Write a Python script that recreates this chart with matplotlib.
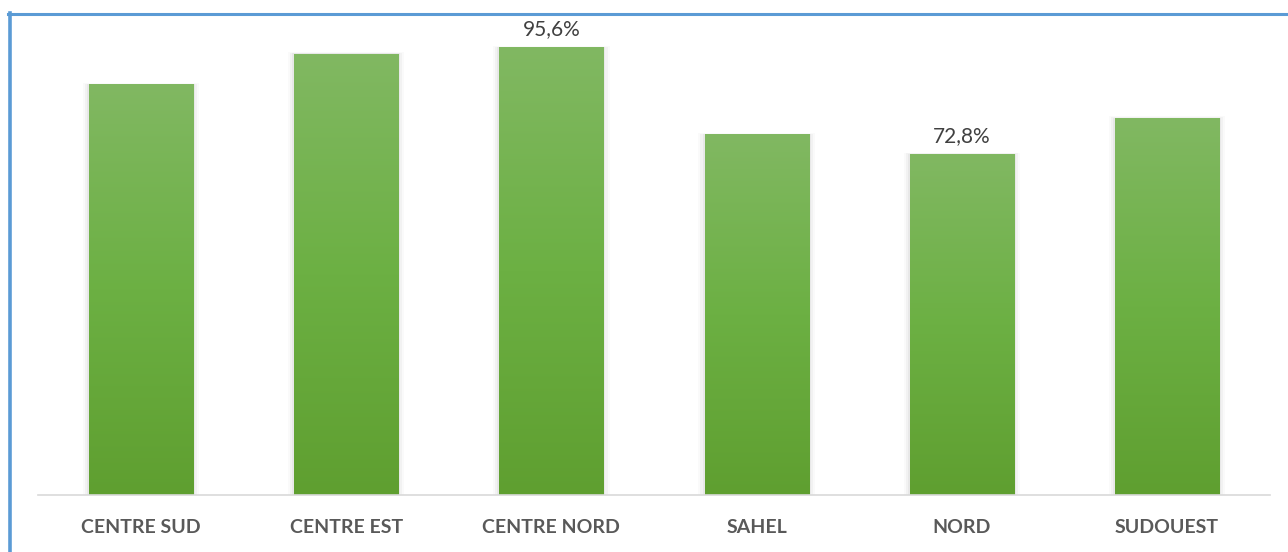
import matplotlib
matplotlib.use('Agg')
import matplotlib.pyplot as plt
import numpy as np
from matplotlib.colors import LinearSegmentedColormap
from matplotlib.lines import Line2D

regions = ['CENTRE SUD', 'CENTRE EST', 'CENTRE NORD', 'SAHEL', 'NORD', 'SUDOUEST']
rates = [87.7, 94.3, 95.6, 77.0, 72.8, 80.6]
labelled = {'CENTRE NORD': '95,6%', 'NORD': '72,8%'}

plt.rcParams['font.family'] = ['Lato', 'DejaVu Sans']

fig = plt.figure(figsize=(12.88, 5.52), dpi=100)
ax = fig.add_axes([0.0298, 0.1033, 0.9559, 0.8471])

green = LinearSegmentedColormap.from_list('g', ['#5f9f30', '#6cb043', '#81b862'])
grad = np.linspace(0, 1, 256).reshape(-1, 1)
width = 0.507
x = np.arange(len(regions))

for xi, name, val in zip(x, regions, rates):
    # soft shadow behind the bar
    for k, a in enumerate([0.04, 0.03, 0.02]):
        pad = 0.01 * (k + 1)
        ax.add_patch(plt.Rectangle((xi - width / 2 - pad, 0), width + 2 * pad, val + pad * 12,
                                   color='black', alpha=a, lw=0, zorder=1))
    ax.imshow(grad, cmap=green, aspect='auto', origin='lower',
              extent=(xi - width / 2, xi + width / 2, 0, val), zorder=2)
    if name in labelled:
        ax.text(xi, val + 1.8, labelled[name], ha='center', va='bottom',
                fontsize=15, color='#404040')

ax.set_xlim(-0.5, len(regions) - 0.5)
ax.set_ylim(0, 100)
ax.set_xticks(x)
ax.set_xticklabels(regions, fontsize=14, fontweight='bold', color='#595959')
ax.tick_params(axis='x', length=0, pad=17)
ax.set_yticks([])
for s in ['top', 'right', 'left']:
    ax.spines[s].set_visible(False)
ax.spines['bottom'].set_color('#d9d9d9')
ax.spines['bottom'].set_linewidth(1.2)

# blue frame on the left and top
W, H = 1288, 552
fig.add_artist(Line2D([9.5 / W, 9.5 / W], [0, 1 - 13 / H], color='#5b9bd5', lw=2.6))
fig.add_artist(Line2D([8 / W, 1], [1 - 14 / H, 1 - 14 / H], color='#5b9bd5', lw=2.2))

fig.savefig('out.png', dpi=100)
